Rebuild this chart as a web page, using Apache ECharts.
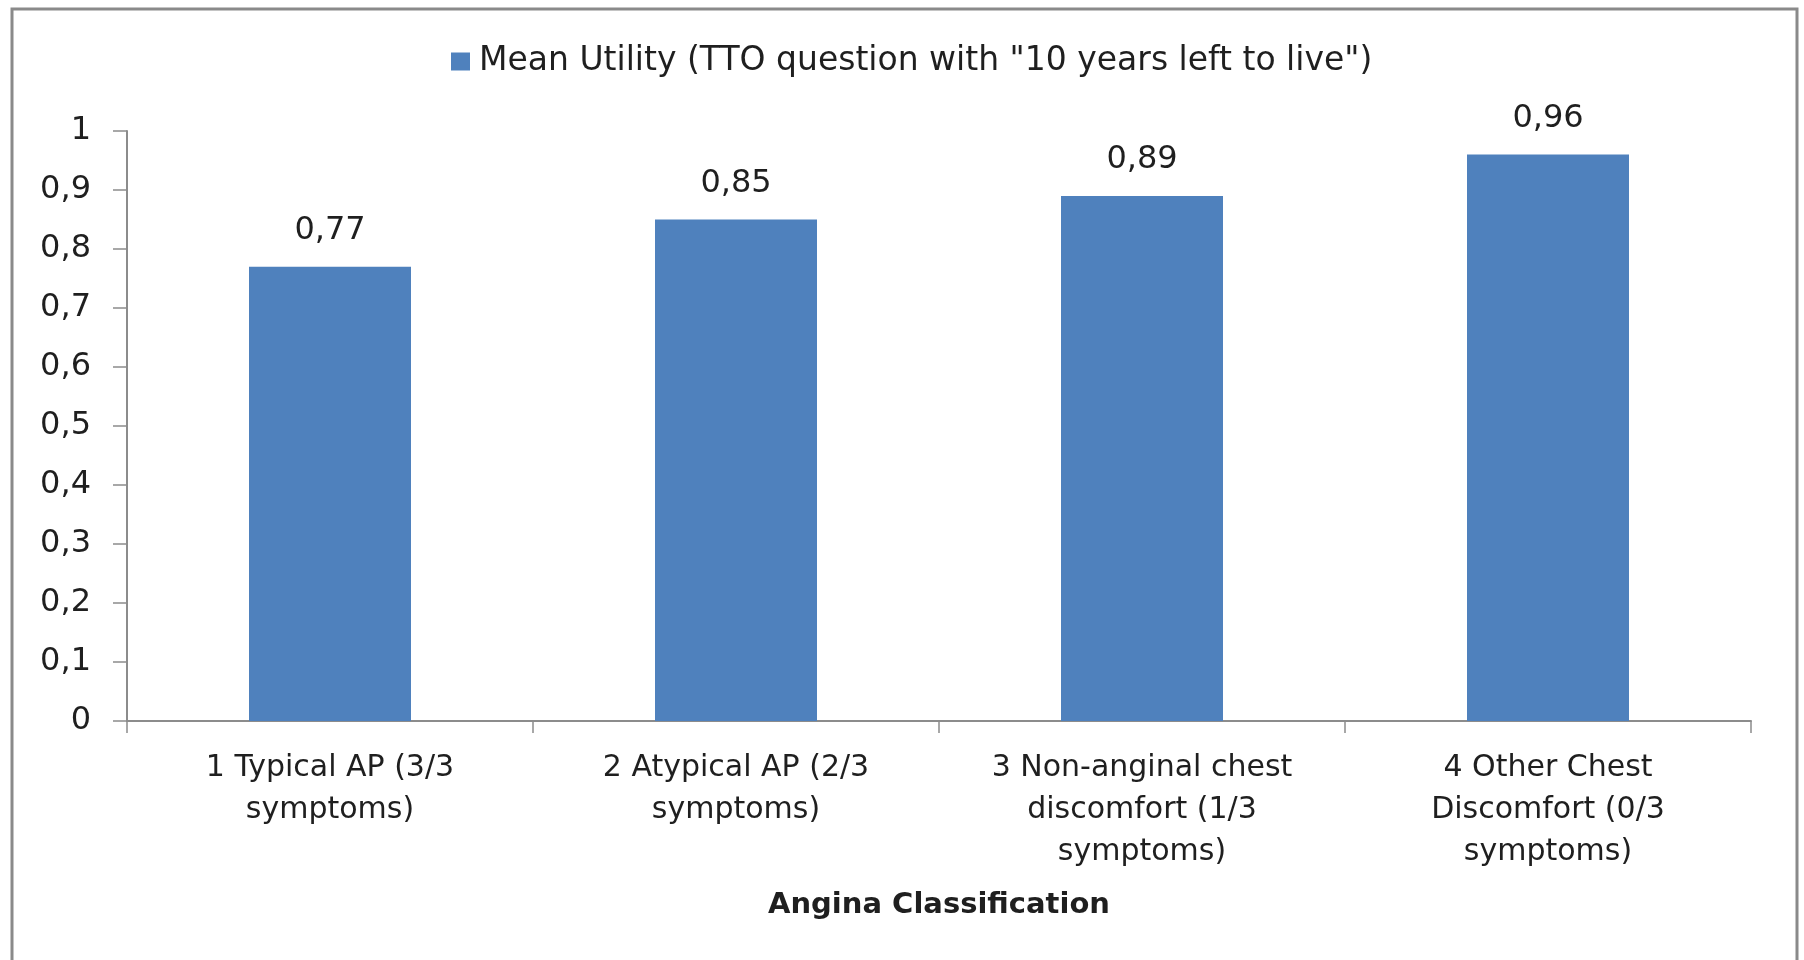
<!DOCTYPE html>
<html><head><meta charset="utf-8">
<script src="https://cdn.jsdelivr.net/npm/echarts@6/dist/echarts.min.js"></script>
<style>html,body{margin:0;padding:0;background:#fff}#c{width:1804px;height:960px}</style>
</head><body><div id="c"></div>
<script>
const categories = [
  "1 Typical AP (3/3\nsymptoms)",
  "2 Atypical AP (2/3\nsymptoms)",
  "3 Non-anginal chest\ndiscomfort (1/3\nsymptoms)",
  "4 Other Chest\nDiscomfort (0/3\nsymptoms)"
];
const meanUtility = [0.77, 0.85, 0.89, 0.96];
const seriesName = 'Mean Utility (TTO question with "10 years left to live")';
const xAxisTitle = 'Angina Classification';

const fmt = v => String(v).replace('.', ',');
const txt = '#1f1f1f';
const chart = echarts.init(document.getElementById('c'), null, {renderer: 'canvas'});
chart.setOption({
  animation: false,
  backgroundColor: '#fff',
  textStyle: {fontFamily: 'DejaVu Sans'},
  graphic: [
    {type: 'polyline', shape: {points: [[12, 960], [12, 9], [1797, 9], [1797, 960]]},
     style: {stroke: '#8a8a8a', lineWidth: 3, fill: null}}
  ],
  legend: {
    top: 40, left: 446,
    itemWidth: 19, itemHeight: 18, itemGap: 8,
    icon: 'rect',
    textStyle: {fontFamily: 'DejaVu Sans', fontSize: 33, color: txt, padding: [0, 0, 0, 4]},
    data: [seriesName]
  },
  grid: {left: 127, right: 53, top: 131, bottom: 239, containLabel: false},
  xAxis: {
    type: 'category',
    data: categories,
    name: xAxisTitle,
    nameLocation: 'middle',
    nameGap: 170,
    nameTextStyle: {fontFamily: 'DejaVu Sans', fontSize: 29, fontWeight: 'bold', color: txt},
    axisLine: {lineStyle: {color: '#8c8c8c', width: 2}},
    axisTick: {show: true, length: 12, lineStyle: {color: '#8c8c8c', width: 1.5}},
    axisLabel: {fontFamily: 'DejaVu Sans', fontSize: 30, color: txt, lineHeight: 42, margin: 26, interval: 0}
  },
  yAxis: {
    type: 'value',
    min: 0, max: 1, interval: 0.1,
    splitLine: {show: false},
    axisLine: {show: true, lineStyle: {color: '#8c8c8c', width: 2}},
    axisTick: {show: true, length: 14, lineStyle: {color: '#8c8c8c', width: 1.5}},
    axisLabel: {fontFamily: 'DejaVu Sans', fontSize: 32, color: txt, margin: 36,
      formatter: v => fmt(Math.round(v * 10) / 10)}
  },
  series: [{
    name: seriesName,
    type: 'bar',
    data: meanUtility,
    barWidth: 162,
    itemStyle: {color: '#4F81BD'},
    label: {show: true, position: 'top', distance: 20, fontFamily: 'DejaVu Sans', fontSize: 32, color: txt,
      formatter: p => fmt(p.value)}
  }]
});
</script></body></html>
